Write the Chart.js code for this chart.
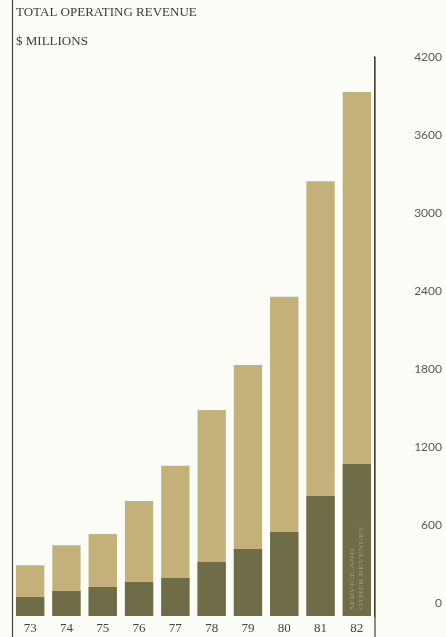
<!DOCTYPE html>
<html>
<head>
<meta charset="utf-8">
<script src="https://cdn.jsdelivr.net/npm/chart.js@4/dist/chart.umd.min.js"></script>
<style>
  html, body { margin: 0; padding: 0; background: #fdfdf7; }
  #wrap { width: 446px; height: 637px; }
</style>
</head>
<body>
<div id="wrap"><canvas id="c" width="446" height="637"></canvas></div>
<script>
// Fiscal years shown along the bottom
const years = ['73', '74', '75', '76', '77', '78', '79', '80', '81', '82'];
// Total operating revenue, $ millions
const totalRevenue = [290, 445, 530, 785, 1055, 1485, 1830, 2355, 3245, 3930];
// Service and other revenues, $ millions
const serviceRevenue = [46, 92, 123, 162, 192, 315, 415, 546, 823, 1069];
// Right-hand scale labels
const yTicks = [0, 600, 1200, 1800, 2400, 3000, 3600, 4200];

const titleLines = ['TOTAL OPERATING REVENUE', '$ MILLIONS'];
const barNote = ['SERVICE AND', 'OTHER REVENUES'];

const INK = '#45443c';
const TAN = '#c3b179';
const OLIVE = '#6f6c48';
const FLOOR = -100; // bars drop a little below the zero line

const framePlugin = {
  id: 'frame',
  beforeDraw(chart) {
    const { ctx, width, height } = chart;
    ctx.save();
    ctx.fillStyle = '#fdfdf7';
    ctx.fillRect(0, 0, width, height);
    ctx.restore();
  },
  afterDraw(chart) {
    const { ctx, height, chartArea } = chart;
    const { left, right, top } = chartArea;
    ctx.save();
    // vertical rules
    ctx.strokeStyle = INK;
    ctx.lineWidth = 1.2;
    ctx.beginPath();
    ctx.moveTo(left + 0.5, 0);
    ctx.lineTo(left + 0.5, height);
    ctx.moveTo(right, top);
    ctx.lineTo(right, height);
    ctx.stroke();

    // heading
    ctx.fillStyle = '#3c3b35';
    ctx.font = '13px "Liberation Serif"';
    ctx.textAlign = 'left';
    ctx.textBaseline = 'middle';
    ctx.fillText(titleLines[0], left + 4, 13);
    ctx.fillText(titleLines[1], left + 4, 42);

    // note set sideways inside the last service bar
    const meta = chart.getDatasetMeta(0);
    const bar = meta.data[meta.data.length - 1];
    if (bar) {
      ctx.translate(bar.x, bar.base - 6);
      ctx.rotate(-Math.PI / 2);
      ctx.scale(1.35, 1);
      ctx.fillStyle = '#9e9a74';
      ctx.font = '7px "Liberation Serif"';
      ctx.textAlign = 'left';
      ctx.textBaseline = 'middle';
      ctx.fillText(barNote[0], 0, -4.5);
      ctx.fillText(barNote[1], 0, 4.5);
    }
    ctx.restore();
  }
};

new Chart(document.getElementById('c'), {
  type: 'bar',
  data: {
    labels: years,
    datasets: [
      {
        label: 'Service and other revenues',
        data: serviceRevenue,
        backgroundColor: OLIVE,
        base: FLOOR,
        grouped: false,
        barPercentage: 0.78,
        categoryPercentage: 1
      },
      {
        label: 'Total operating revenue',
        data: totalRevenue,
        backgroundColor: TAN,
        base: FLOOR,
        grouped: false,
        barPercentage: 0.78,
        categoryPercentage: 1
      }
    ]
  },
  options: {
    responsive: false,
    animation: false,
    devicePixelRatio: 1,
    layout: { padding: { top: 57, left: 12, right: 4, bottom: 0 } },
    plugins: {
      legend: { display: false },
      title: { display: false },
      tooltip: { enabled: false }
    },
    scales: {
      x: {
        grid: { display: false, drawTicks: false },
        border: { display: false },
        afterFit(scale) { scale.height = 21; },
        ticks: {
          color: INK,
          font: { family: 'Liberation Serif', size: 13 },
          padding: 5,
          maxRotation: 0
        }
      },
      y: {
        position: 'right',
        min: FLOOR,
        max: 4200,
        grid: { display: false, drawTicks: false },
        border: { display: true, color: INK, width: 1.2 },
        afterBuildTicks(scale) {
          scale.ticks = yTicks.map(v => ({ value: v }));
        },
        afterFit(scale) {
          scale.width = 67;
          // labels sit inside the plot height, no extra room needed
          scale.paddingTop = 0;
          scale.paddingBottom = 0;
        },
        ticks: {
          color: '#5a5950',
          font: { family: 'Lato', size: 12 },
          crossAlign: 'far',
          padding: 8,
          callback: (v) => String(v)
        }
      }
    }
  },
  plugins: [framePlugin]
});
</script>
</body>
</html>
